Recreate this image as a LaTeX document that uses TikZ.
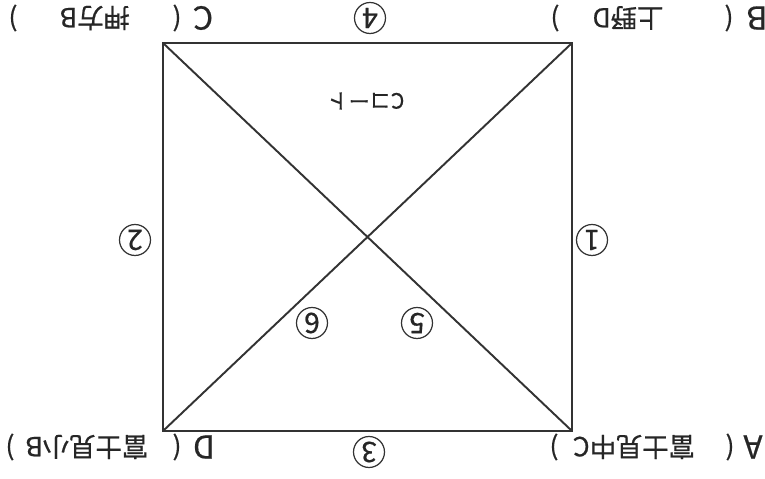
\documentclass[tikz,border=0pt]{standalone}
\usepackage{fontspec}
\newfontfamily\jpfont{Noto Sans CJK JP}[FakeBold=0.6]
\begin{document}
\begin{tikzpicture}[x=0.02cm, y=-0.02cm, line cap=round,
    edge/.style={draw=black!80, line width=1.1pt},
    lbl/.style={rotate=180, font=\jpfont\fontsize{15}{15}\selectfont, text=black!85, inner sep=0pt},
    letter/.style={lbl, font=\jpfont\fontsize{18}{18}\selectfont},
    num/.style={circle, draw=black!80, line width=0.7pt, minimum size=0.62cm, inner sep=0pt,
      rotate=180, font=\jpfont\fontsize{16}{16}\selectfont, text=black!85}]
  \useasboundingbox (0,0) rectangle (765,479);
  % corners of the square (the sheet lies upside down)
  \coordinate (A) at (572,431);
  \coordinate (B) at (572,43);
  \coordinate (C) at (163,43);
  \coordinate (D) at (163,431);
  \draw[edge] (A) -- (B) -- (C) -- (D) -- cycle;
  \draw[edge] (A) -- (C);
  \draw[edge] (B) -- (D);
  % teams at the corners
  \foreach \k/\y/\xl/\xo/\xt/\xc/\tm in {A/447/753/730/634/554/富士見中C,
      B/18/757/729/628/555/上野D, C/18/203/177/95/13/押方B, D/447/204/177/87/10/富士見小B}{
    \node[letter] (\k-let) at (\xl,\y) {\k};
    \node[lbl] (\k-open) at (\xo,\y) {(};
    \node[lbl] (\k-team) at (\xt,\y) {\tm};
    \node[lbl] (\k-close) at (\xc,\y) {)};
  }
  % matches
  \node[num] (m1) at (592,240) {1};
  \node[num] (m2) at (135,240) {2};
  \node[num] (m3) at (369,452) {3};
  \node[num] (m4) at (370,18) {4};
  \node[num] (m5) at (417,323) {5};
  \node[num] (m6) at (312,323) {6};
  \node[lbl, font=\jpfont\fontsize{12}{12}\selectfont] (court) at (366,101) {Cコート};
\end{tikzpicture}
\end{document}
